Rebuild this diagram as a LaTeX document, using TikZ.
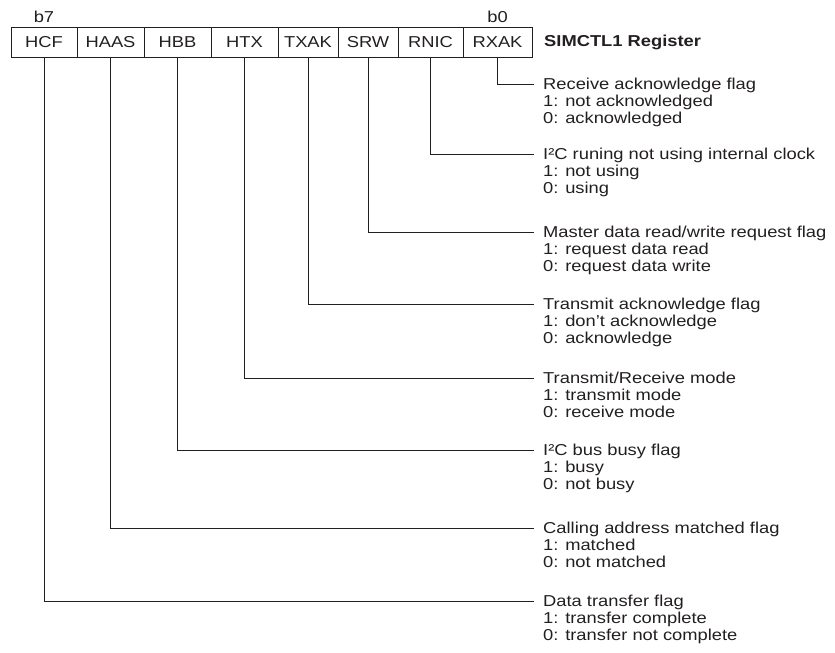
\documentclass[tikz,border=0pt]{standalone}
\usepackage{fontspec}
\setmainfont[FakeStretch=1.16]{Liberation Sans}
\definecolor{ink}{HTML}{231F20}
\begin{document}
\begin{tikzpicture}[x=1pt,y=-1pt,
  every node/.style={text=ink,font=\fontsize{15.8}{16.7}\selectfont},
  bitbox/.style={draw=ink,line width=1pt,minimum height=30pt,inner sep=0pt},
  desc/.style={anchor=base west,align=left,inner sep=0pt},
  conn/.style={draw=ink,line width=1pt}]
\useasboundingbox (0,0) rectangle (835,653);
% register boxes
\node[bitbox,minimum width=66pt] (hcf)  at (44,42)    {HCF};
\node[bitbox,minimum width=67pt] (haas) at (110.5,42) {HAAS};
\node[bitbox,minimum width=67pt] (hbb)  at (177.5,42) {HBB};
\node[bitbox,minimum width=67pt] (htx)  at (244.5,42) {HTX};
\node[bitbox,minimum width=60pt] (txak) at (308,42)   {TXAK};
\node[bitbox,minimum width=60pt] (srw)  at (368,42)   {SRW};
\node[bitbox,minimum width=65pt] (rnic) at (430.5,42) {RNIC};
\node[bitbox,minimum width=69pt] (rxak) at (497.5,42) {RXAK};
\node[anchor=base] (b7) at (44,22) {b7};
\node[anchor=base] (b0) at (497.5,22) {b0};
\node[anchor=west,inner sep=0pt,font=\fontsize{15.8}{16.7}\selectfont\bfseries] (title) at (544,42) {SIMCTL1 Register};
% connector ends
\coordinate (e0) at (534,84);
\coordinate (e1) at (534,154);
\coordinate (e2) at (534,232);
\coordinate (e3) at (534,304);
\coordinate (e4) at (534,378);
\coordinate (e5) at (534,450);
\coordinate (e6) at (534,528);
\coordinate (e7) at (534,601);
% descriptions (base anchor = baseline of the last line)
\node[desc] (d0) at (543,123)  {Receive acknowledge flag\\1: not acknowledged\\0: acknowledged};
\node[desc] (d1) at (543,193) {I²C runing not using internal clock\\1: not using\\0: using};
\node[desc] (d2) at (543,271) {Master data read/write request flag\\1: request data read\\0: request data write};
\node[desc] (d3) at (543,343) {Transmit acknowledge flag\\1: don't acknowledge\\0: acknowledge};
\node[desc] (d4) at (543,417) {Transmit/Receive mode\\1: transmit mode\\0: receive mode};
\node[desc] (d5) at (543,489) {I²C bus busy flag\\1: busy\\0: not busy};
\node[desc] (d6) at (543,567) {Calling address matched flag\\1: matched\\0: not matched};
\node[desc] (d7) at (543,640) {Data transfer flag\\1: transfer complete\\0: transfer not complete};
% connectors
\draw[conn] (rxak.south) |- (e0);
\draw[conn] (rnic.south) |- (e1);
\draw[conn] (srw.south)  |- (e2);
\draw[conn] (txak.south) |- (e3);
\draw[conn] (htx.south)  |- (e4);
\draw[conn] (hbb.south)  |- (e5);
\draw[conn] (haas.south) |- (e6);
\draw[conn] (hcf.south)  |- (e7);
\end{tikzpicture}
\end{document}
